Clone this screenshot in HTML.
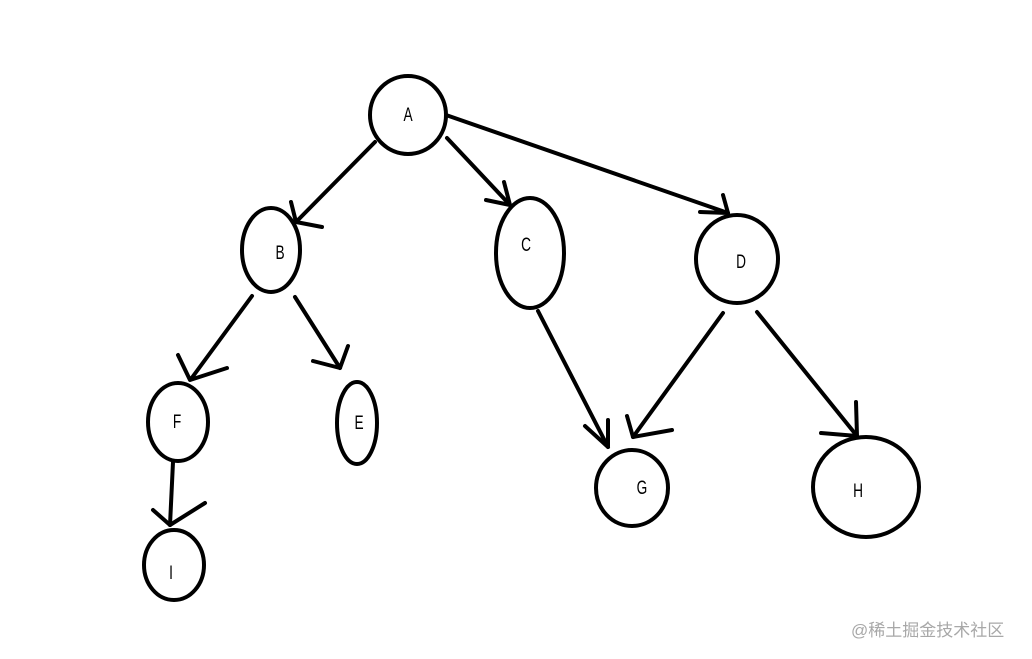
<!DOCTYPE html>
<html><head><meta charset="utf-8"><style>
html,body{margin:0;padding:0;background:#fff;}
svg{display:block;}
.l{font-family:"Liberation Sans",sans-serif;font-size:19px;fill:#000;text-anchor:middle;}
</style></head><body>
<svg width="1032" height="659" viewBox="0 0 1032 659">
<g fill="none" stroke="#000" stroke-width="4" stroke-linecap="round" stroke-linejoin="round">
<ellipse cx="408" cy="115" rx="38" ry="39"/>
<ellipse cx="271" cy="250" rx="29" ry="42"/>
<ellipse cx="530" cy="253" rx="34" ry="55"/>
<ellipse cx="737" cy="259" rx="41" ry="44"/>
<ellipse cx="178" cy="422" rx="30" ry="39"/>
<ellipse cx="357" cy="423" rx="20" ry="41"/>
<ellipse cx="174" cy="565" rx="30" ry="35"/>
<ellipse cx="632" cy="488" rx="36" ry="38"/>
<ellipse cx="866" cy="487" rx="53" ry="50"/>
<line x1="375" y1="142" x2="296" y2="222"/>
<polyline points="291,202 296,222 322,227"/>
<line x1="447" y1="138" x2="510" y2="205"/>
<polyline points="504,182 510,205 486,200"/>
<line x1="446" y1="115" x2="728" y2="213"/>
<polyline points="723,195 728,213 700,212"/>
<line x1="252" y1="296" x2="191" y2="379"/>
<polyline points="178,355 190,380 227,368"/>
<line x1="295" y1="297" x2="340" y2="368"/>
<polyline points="348,346 340,368 313,361"/>
<line x1="173" y1="462" x2="170" y2="525"/>
<polyline points="153,510 170,525 205,503"/>
<line x1="538" y1="311" x2="608" y2="447"/>
<polyline points="608,420 608,447 585,426"/>
<line x1="723" y1="313" x2="633" y2="437"/>
<polyline points="627,416 633,437 672,430"/>
<line x1="757" y1="312" x2="857" y2="436"/>
<polyline points="856,402 857,436 821,433"/>
</g>
<g class="l">
<text transform="translate(408,121) scale(0.72,1)">A</text>
<text transform="translate(280,259) scale(0.72,1)">B</text>
<text transform="translate(526,251) scale(0.72,1)">C</text>
<text transform="translate(741,268) scale(0.72,1)">D</text>
<text transform="translate(177,428) scale(0.72,1)">F</text>
<text transform="translate(359,429) scale(0.72,1)">E</text>
<text transform="translate(171,579) scale(0.72,1)">I</text>
<text transform="translate(642,494) scale(0.72,1)">G</text>
<text transform="translate(858,497) scale(0.72,1)">H</text>
</g>
<text x="851" y="636" style="font-family:'Liberation Sans','Noto Sans CJK SC',sans-serif;font-size:17px;fill:#a8a8a8">@稀土掘金技术社区</text>
</svg>
</body></html>
